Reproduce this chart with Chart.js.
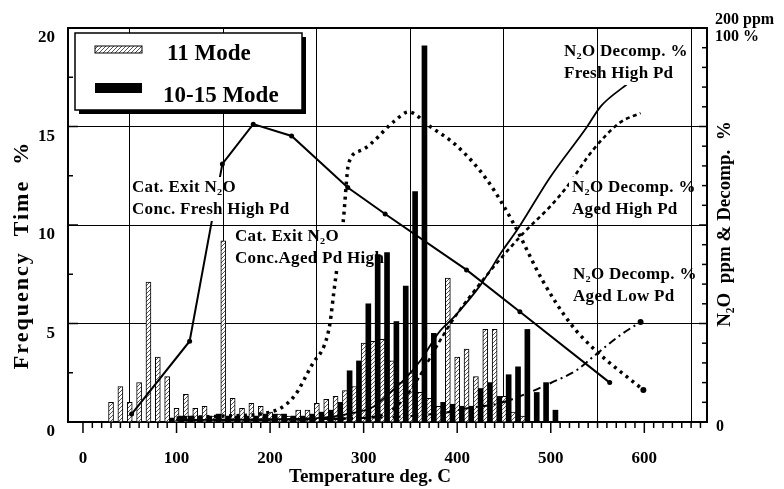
<!DOCTYPE html>
<html>
<head>
<meta charset="utf-8">
<script src="https://cdn.jsdelivr.net/npm/chart.js@4.4.0/dist/chart.umd.min.js"></script>
<style>
  body { margin: 0; background: #fff; }
  #wrap { width: 784px; height: 489px; }
</style>
</head>
<body>
<div id="wrap"><canvas id="chart" width="784" height="489"></canvas></div>
<script>
// ---- data ----
var xTicks = [0, 100, 200, 300, 400, 500, 600];
var yTicks = [0, 5, 10, 15, 20];

// frequency bars (left axis, %)
var mode11Temps = [30, 40, 50, 60, 70, 80, 90, 100, 110, 120, 130, 140, 150, 160, 170, 180, 190, 200, 210, 220,
                   230, 240, 250, 260, 270, 280, 290, 300, 310, 320, 330, 340, 350, 360, 370, 380, 390, 400,
                   410, 420, 430, 440, 450, 460, 470];
var mode11 = [1.0, 1.8, 1.0, 2.0, 7.1, 3.3, 2.3, 0.7, 1.4, 0.7, 0.8, 0.3, 9.2, 1.2, 0.7, 0.95, 0.8, 0.5, 0.4, 0.3,
              0.6, 0.6, 0.95, 1.15, 1.3, 1.6, 1.8, 4.0, 4.1, 4.2, 3.1, 2.0, 2.5, 1.5, 1.2, 0.8, 7.3, 3.3,
              3.7, 2.3, 4.7, 4.7, 1.3, 0.5, 0.3];

var mode1015Temps = [95, 105, 115, 125, 135, 145, 155, 165, 175, 185, 195, 205, 215, 225, 235, 245, 255, 265, 275,
                     285, 295, 305, 315, 325, 335, 345, 355, 365, 375, 385, 395, 405, 415, 425, 435, 445, 455,
                     465, 475, 485, 495, 505];
var mode1015 = [0.2, 0.3, 0.3, 0.3, 0.3, 0.4, 0.3, 0.3, 0.3, 0.3, 0.4, 0.4, 0.4, 0.3, 0.3, 0.4, 0.5, 0.6, 1.0,
                2.6, 3.1, 6.0, 8.5, 8.6, 5.1, 6.9, 11.7, 19.1, 4.5, 1.0, 0.9, 0.8, 0.8, 1.7, 2.0, 1.3, 2.4,
                2.8, 4.7, 1.5, 2.0, 0.6];

// curves (right axis, 0-100 = 0-200 ppm / 0-100 %)
var freshConcTemps = [52, 114, 149, 182, 223, 283, 323, 410, 467, 563];
var freshConc = [2, 20.5, 65.5, 75.6, 72.6, 59.5, 52.8, 38.6, 28, 10];

var agedConcTemps = [100, 150, 200, 225, 246, 258, 264, 268, 272, 278, 284, 298, 334, 348, 371, 400, 432, 460,
                     491, 521, 545, 599];
var agedConc = [1, 1.5, 2.5, 6.3, 15, 19.5, 25, 32.7, 40, 50.5, 65.7, 69, 76.6, 78.7, 75, 70, 61.4, 50.5,
                36, 25, 18.8, 8.1];

var freshDecompTemps = [100, 250, 289, 310, 328, 346, 362, 380, 398, 425, 449, 464, 499, 539, 553, 583];
var freshDecomp = [0.5, 1, 2.3, 3.8, 7.4, 11.4, 16, 22.6, 27, 34.8, 43.7, 48.7, 62, 75, 80, 86];

var agedHighTemps = [100, 300, 330, 350, 368, 385, 400, 430, 471, 499, 517, 545, 574, 596];
var agedHigh = [0.5, 1, 3, 8, 15, 22, 27.5, 36.8, 48, 54.6, 59.6, 69, 76, 78.4];

var agedLowTemps = [100, 300, 385, 411, 446, 476, 500, 528, 545, 574, 596];
var agedLow = [0.5, 1, 2.3, 3.5, 4.8, 7.4, 9.9, 13.2, 16.5, 22, 25.4];

// ---- text placed on the plot (two lines per label) ----
var notes = [
  ['Cat. Exit N\u2082O', 'Conc. Fresh High Pd', 132, 188],
  ['Cat. Exit N\u2082O', 'Conc.Aged Pd High', 235, 237],
  ['N\u2082O Decomp. %', 'Fresh High Pd', 564, 52],
  ['N\u2082O Decomp. %', 'Aged High Pd', 572, 188],
  ['N\u2082O Decomp. %', 'Aged Low Pd', 573, 275]
];

var SERIF = '"Liberation Serif", "DejaVu Serif", serif';
var NOTE_FONT = 'bold 17px ' + SERIF;

function pts(xs, ys) {
  return xs.map(function (t, i) { return { x: t, y: ys[i] }; });
}

var canvas = document.getElementById('chart');
var ctx = canvas.getContext('2d');

function makeHatch() {
  var c = document.createElement('canvas');
  c.width = 4; c.height = 4;
  var g = c.getContext('2d');
  g.fillStyle = '#fff';
  g.fillRect(0, 0, 4, 4);
  g.strokeStyle = '#555';
  g.lineWidth = 1;
  g.beginPath(); g.moveTo(-1, 5); g.lineTo(5, -1); g.stroke();
  return ctx.createPattern(c, 'repeat');
}
var hatch = makeHatch();

function noteBoxes(c) {
  c.save();
  c.font = NOTE_FONT;
  c.letterSpacing = '0.3px';
  var boxes = notes.map(function (n) {
    var w = Math.max(c.measureText(n[0]).width, c.measureText(n[1]).width);
    return { x: n[2] - 3, y: n[3] - 11, w: w + 6, h: 44 };
  });
  c.restore();
  return boxes;
}

function seg(c, x1, y1, x2, y2) {
  c.beginPath(); c.moveTo(x1, y1); c.lineTo(x2, y2); c.stroke();
}

// lines are hidden behind the text labels, as in the scan
var labelMask = {
  id: 'labelMask',
  beforeDatasetDraw: function (chart, args) {
    if (chart.data.datasets[args.index].type !== 'line') return;
    var c = chart.ctx;
    c.save();
    c.beginPath();
    c.rect(0, 0, chart.width, chart.height);
    noteBoxes(c).forEach(function (b) { c.rect(b.x, b.y, b.w, b.h); });
    c.clip('evenodd');
  },
  afterDatasetDraw: function (chart, args) {
    if (chart.data.datasets[args.index].type !== 'line') return;
    chart.ctx.restore();
  }
};

var decor = {
  id: 'decor',
  afterDraw: function (chart) {
    var c = chart.ctx, a = chart.chartArea;
    var x = chart.scales.x, y = chart.scales.y, y2 = chart.scales.y2;
    c.save();
    c.strokeStyle = '#000';
    c.fillStyle = '#000';

    // top frame
    c.lineWidth = 2;
    seg(c, a.left - 1, a.top, a.right + 1, a.top);

    // tick marks
    c.lineWidth = 1.5;
    for (var v = 0; v <= 660; v += 10) {
      var px = x.getPixelForValue(v);
      seg(c, px, a.bottom, px, a.bottom + (v % 100 === 0 ? 11 : 6));
    }
    for (var w = 0; w <= 20; w += 2.5) {
      var py = y.getPixelForValue(w);
      seg(c, a.left, py, a.left + (w % 5 === 0 ? 10 : 5), py);
    }
    for (var r = 0; r <= 100; r += 5) {
      var pr = y2.getPixelForValue(r);
      seg(c, a.right, pr, a.right - (r % 25 === 0 ? 8 : 5), pr);
    }

    // right axis end labels
    c.font = 'bold 16px ' + SERIF;
    c.textAlign = 'left';
    c.textBaseline = 'middle';
    c.fillText('0', a.right + 9, y2.getPixelForValue(0) + 5);
    c.fillText('200 ppm', a.right + 8, 20);
    c.fillText('100 %', a.right + 8, 37);

    // axis titles
    c.textAlign = 'center';
    c.font = 'bold 19px ' + SERIF;
    c.fillText('Temperature deg. C', 370, 477);

    c.save();
    c.translate(22, 255);
    c.rotate(-Math.PI / 2);
    c.font = 'bold 22px ' + SERIF;
    c.letterSpacing = '2px';
    c.fillText('Frequency  Time  %', 0, 0);
    c.restore();

    c.save();
    c.translate(725, 224);
    c.rotate(-Math.PI / 2);
    c.font = 'bold 19px ' + SERIF;
    c.fillText('N\u2082O  ppm & Decomp.  %', 0, 0);
    c.restore();

    // notes on the plot
    c.font = NOTE_FONT;
    c.letterSpacing = '0.3px';
    c.textAlign = 'left';
    notes.forEach(function (n) {
      c.fillText(n[0], n[2], n[3]);
      c.fillText(n[1], n[2], n[3] + 22);
    });
    c.letterSpacing = '0px';

    // legend box with drop shadow
    c.fillStyle = '#000';
    c.fillRect(79, 37, 227, 77);
    c.fillStyle = '#fff';
    c.fillRect(75, 33, 227, 77);
    c.lineWidth = 1.5;
    c.strokeRect(75, 33, 227, 77);
    c.fillStyle = hatch;
    c.fillRect(95, 46, 47, 7);
    c.lineWidth = 1;
    c.strokeRect(95, 46, 47, 7);
    c.fillStyle = '#000';
    c.fillRect(95, 83, 47, 10);
    c.font = 'bold 23px ' + SERIF;
    c.textBaseline = 'alphabetic';
    c.fillText('11 Mode', 167, 60);
    c.fillText('10-15 Mode', 163, 102);
    c.restore();
  }
};

Chart.defaults.font.family = SERIF;
Chart.defaults.font.weight = 'bold';
Chart.defaults.font.size = 17;
Chart.defaults.color = '#000';

new Chart(ctx, {
  type: 'bar',
  data: {
    datasets: [
      {
        type: 'line', label: 'Cat. Exit N2O Conc. Fresh High Pd', yAxisID: 'y2',
        data: pts(freshConcTemps, freshConc),
        borderColor: '#000', borderWidth: 2, tension: 0,
        pointRadius: 2.5, pointBackgroundColor: '#000', pointBorderWidth: 0, order: 1
      },
      {
        type: 'line', label: 'Cat. Exit N2O Conc. Aged Pd High', yAxisID: 'y2',
        data: pts(agedConcTemps, agedConc),
        borderColor: '#000', borderWidth: 3.5, borderDash: [3, 4.5], cubicInterpolationMode: 'monotone',
        pointRadius: function (c) { return c.dataIndex === agedConc.length - 1 ? 3 : 0; },
        pointBackgroundColor: '#000', pointBorderWidth: 0, order: 1
      },
      {
        type: 'line', label: 'N2O Decomp. % Fresh High Pd', yAxisID: 'y2',
        data: pts(freshDecompTemps, freshDecomp),
        borderColor: '#000', borderWidth: 1.8, cubicInterpolationMode: 'monotone',
        pointRadius: 0, order: 1
      },
      {
        type: 'line', label: 'N2O Decomp. % Aged High Pd', yAxisID: 'y2',
        data: pts(agedHighTemps, agedHigh),
        borderColor: '#000', borderWidth: 2.6, borderDash: [4, 3.5], cubicInterpolationMode: 'monotone',
        pointRadius: 0, order: 1
      },
      {
        type: 'line', label: 'N2O Decomp. % Aged Low Pd', yAxisID: 'y2',
        data: pts(agedLowTemps, agedLow),
        borderColor: '#000', borderWidth: 2, borderDash: [8, 4, 2, 4], cubicInterpolationMode: 'monotone',
        pointRadius: function (c) { return c.dataIndex === agedLow.length - 1 ? 3 : 0; },
        pointBackgroundColor: '#000', pointBorderWidth: 0, order: 1
      },
      {
        type: 'bar', label: '11 Mode', yAxisID: 'y',
        data: pts(mode11Temps, mode11),
        backgroundColor: hatch, borderColor: '#000', borderWidth: 1,
        barThickness: 5, grouped: false, order: 2
      },
      {
        type: 'bar', label: '10-15 Mode', yAxisID: 'y',
        data: pts(mode1015Temps, mode1015),
        backgroundColor: '#000', borderColor: '#000', borderWidth: 0,
        barThickness: 5, grouped: false, order: 2
      }
    ]
  },
  options: {
    responsive: false,
    animation: false,
    layout: { padding: { top: 28, left: 0, right: 0, bottom: 0 } },
    plugins: { legend: { display: false }, tooltip: { enabled: false } },
    scales: {
      x: {
        type: 'linear', min: -16, max: 667, offset: false,
        afterBuildTicks: function (s) { s.ticks = xTicks.map(function (v) { return { value: v }; }); },
        afterFit: function (s) { s.height = 67; },
        grid: {
          drawTicks: false, lineWidth: 1,
          color: function (c) { return c.tick && c.tick.value === 0 ? 'rgba(0,0,0,0)' : '#000'; }
        },
        border: { display: true, color: '#000', width: 2 },
        ticks: { padding: 26, maxRotation: 0, font: { size: 17 } }
      },
      y: {
        position: 'left', min: 0, max: 20,
        afterBuildTicks: function (s) { s.ticks = yTicks.map(function (v) { return { value: v }; }); },
        afterFit: function (s) { s.width = 68; },
        grid: {
          drawTicks: false, lineWidth: 1,
          color: function (c) {
            var v = c.tick ? c.tick.value : 0;
            return (v > 0 && v < 20) ? '#000' : 'rgba(0,0,0,0)';
          }
        },
        border: { display: true, color: '#000', width: 2 },
        ticks: { padding: 13, labelOffset: 10, font: { size: 17 } }
      },
      y2: {
        position: 'right', min: 0, max: 100,
        afterFit: function (s) { s.width = 77; },
        grid: { drawOnChartArea: false, drawTicks: false },
        border: { display: true, color: '#000', width: 2 },
        ticks: { display: false }
      }
    }
  },
  plugins: [labelMask, decor]
});
</script>
</body>
</html>
